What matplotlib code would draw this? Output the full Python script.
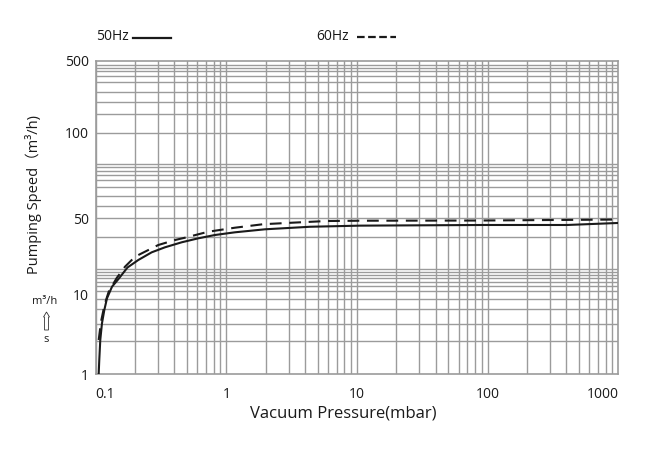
import numpy as np
import matplotlib
matplotlib.use("Agg")
import matplotlib.pyplot as plt
from matplotlib.lines import Line2D
from matplotlib.patches import Polygon

plt.rcParams['font.family'] = ['Open Sans', 'Noto Sans CJK SC', 'DejaVu Sans']
plt.rcParams['lines.scale_dashes'] = False

# pressure (mbar) / pumping speed (m3/h)
p_50 = [0.1054, 0.1065, 0.1084, 0.1117, 0.1164, 0.122, 0.1333, 0.1494, 0.1751, 0.2119,
        0.2683, 0.3392, 0.4552, 0.6101, 0.8186, 1.165, 1.976, 4.37, 10.5, 92, 405, 1000]
s_50 = [1.0, 1.5, 2.67, 4.33, 6.35, 8.91, 11.75, 13.83, 17.64, 20.68,
        24.33, 27.06, 30.08, 32.73, 35.11, 37.17, 39.61, 41.8, 42.8, 43.4, 43.4, 45.3]
p_60 = [0.1054, 0.1098, 0.1168, 0.1257, 0.1448, 0.1676, 0.2, 0.3013, 0.4046, 0.4826,
        0.7277, 1.165, 1.908, 3.25, 5.86, 10.5, 87, 1000]
s_60 = [2.67, 4.53, 7.34, 10.56, 14.12, 17.94, 22.17, 28.4, 31.58, 33.15,
        37.64, 40.98, 44.1, 45.6, 47.2, 47.5, 47.7, 48.7]

x_ticks = [0.1, 1, 10, 100, 1000]
x_labels = ["0.1", "1", "10", "100", "1000"]
y_ticks = [1, 10, 50, 100, 500]
y_labels = ["1", "10", "50", "100", "500"]
# horizontal grid lines of the printed (non-uniform) chart grid
y_grid = [2.6, 4.2, 6.5, 8.7, 10.7, 12.0, 13.1, 14.0, 15.0, 16.1, 17.1, 33.9,
          50, 55.3, 59.9, 64.4, 68.2, 71.0, 73.5, 75.7, 77.6, 100,
          152, 200, 251, 312, 357, 400, 430, 457]

# the chart's y axis is hand-made: each labelled value sits at its own height
y_anchor_pos = [0, 79.7, 155.7, 241.3, 313.0]
y_anchor_log = np.log10(y_ticks)


def fwd(v):
    v = np.clip(np.asarray(v, dtype=float), 1e-6, None)
    return np.interp(np.log10(v), y_anchor_log, y_anchor_pos)


def inv(u):
    return 10 ** np.interp(np.asarray(u, dtype=float), y_anchor_pos, y_anchor_log)


W, H = 650, 450
fig = plt.figure(figsize=(6.5, 4.5), dpi=100)
ax = fig.add_axes([95.7 / W, 1 - 374 / H, 522.6 / W, 313 / H])
ax.set_xscale("log")
ax.set_yscale("function", functions=(fwd, inv))
ax.set_xlim(0.1, 1000)
ax.set_ylim(1, 500)

gc = "#9b9b9b"
for d in range(-1, 3):
    for k in range(1, 10):
        ax.axvline(k * 10.0 ** d, color=gc, lw=1.0, zorder=1)
for v in y_grid:
    ax.axhline(v, color=gc, lw=1.0, zorder=1)

ax.plot(p_50, s_50, color="#1a1a1a", lw=1.5, zorder=3)
ax.plot(p_60, s_60, color="#1a1a1a", lw=1.5, dashes=(8.5, 5.5), zorder=3)

for sp in ax.spines.values():
    sp.set_color(gc)
    sp.set_linewidth(1.2)

ax.set_xticks(x_ticks)
ax.set_xticklabels(x_labels)
ax.xaxis.set_minor_locator(matplotlib.ticker.NullLocator())
ax.set_yticks(y_ticks)
ax.set_yticklabels(y_labels)
ax.yaxis.set_minor_locator(matplotlib.ticker.NullLocator())
ax.tick_params(length=0, labelsize=10, colors="#1a1a1a")
ax.tick_params(axis="x", pad=9)
ax.tick_params(axis="y", pad=5)
xl = ax.get_xticklabels()
xl[0].set_horizontalalignment("left")
xl[-1].set_horizontalalignment("right")

fig.text(343 / W, 1 - 413 / H, "Vacuum Pressure(mbar)", ha="center", va="center",
         fontsize=12, color="#1a1a1a")
fig.text(34 / W, 1 - 194 / H, "Pumping Speed（m³/h)", ha="center", va="center",
         rotation=90, fontsize=10.5, color="#1a1a1a")
fig.text(45 / W, 1 - 302 / H, "m³/h", ha="center", va="center", fontsize=8, color="#1a1a1a")
fig.text(46.5 / W, 1 - 340 / H, "s", ha="center", va="center", fontsize=8, color="#1a1a1a")
arrow = [(44.5, 330), (44.5, 317), (43.5, 317), (46.5, 312), (49.5, 317), (48.5, 317), (48.5, 330)]
fig.add_artist(Polygon([(x / W, 1 - y / H) for x, y in arrow], closed=True, fill=False,
                       edgecolor="#333333", lw=0.6, transform=fig.transFigure))

# legend
fig.text(96 / W, 1 - 36 / H, "50Hz", ha="left", va="center", fontsize=10, color="#1a1a1a")
fig.add_artist(Line2D([133 / W, 171 / W], [1 - 37.7 / H] * 2, color="#1a1a1a", lw=1.6,
                      transform=fig.transFigure))
fig.text(316 / W, 1 - 36 / H, "60Hz", ha="left", va="center", fontsize=10, color="#1a1a1a")
fig.add_artist(Line2D([357 / W, 396 / W], [1 - 37.2 / H] * 2, color="#1a1a1a", lw=1.6,
                      dashes=(5.5, 2.5), transform=fig.transFigure))

fig.savefig("out.png", dpi=100)
